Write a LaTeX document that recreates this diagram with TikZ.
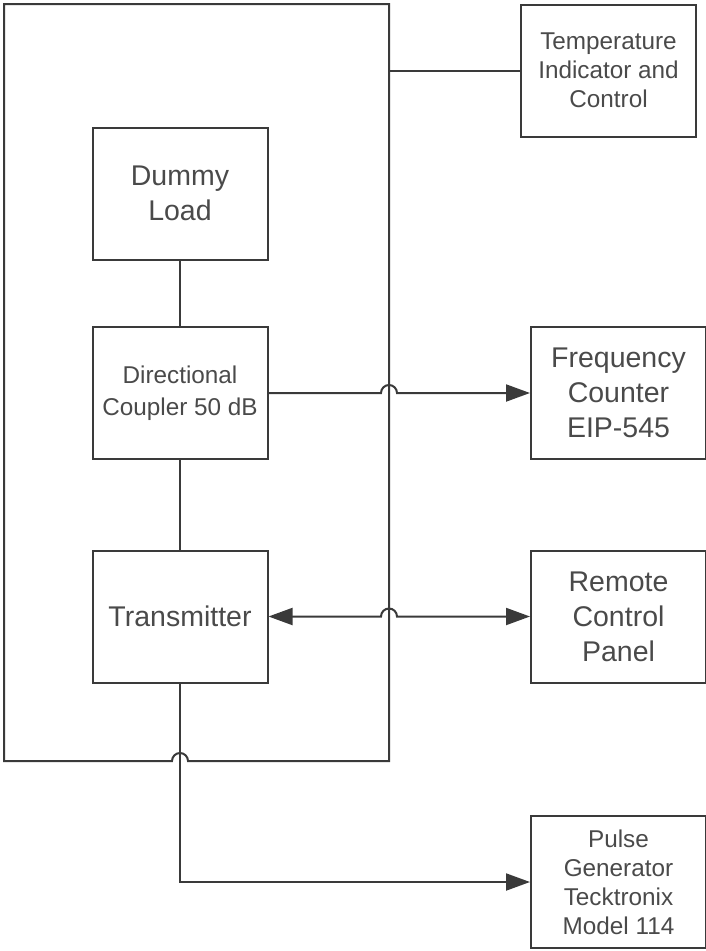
\documentclass[tikz,border=0pt]{standalone}
\usepackage{fontspec}
\setmainfont{Liberation Sans}
\usetikzlibrary{arrows.meta,calc}
\definecolor{linegray}{HTML}{3A3A3A}
\definecolor{textgray}{HTML}{4A4A4A}

\begin{document}
\begin{tikzpicture}[
              x=1pt,y=1pt,
              block/.style={
                  draw=linegray,
                  line width=2pt,
                  rectangle,
                  minimum width=175pt,
                  minimum height=132pt,
                  inner sep=0pt,
                  align=center,
                  text=textgray,
                  font=\fontsize{28.5}{35}\selectfont,
                },
              smalltext/.style={font=\fontsize{24.3}{29}\selectfont},
              widetext/.style={font=\fontsize{24.3}{32}\selectfont},
              wire/.style={draw=linegray,line width=2pt},
              tip/.style={-{Triangle[length=24pt,width=17pt]}},
              bothtips/.style={{Triangle[length=24pt,width=17pt]}-{Triangle[length=24pt,width=17pt]}}
            ]
            \useasboundingbox (0,0) rectangle (706,-951);
            % left column
            \node[block] (dummy) at (180,-193.5) {Dummy\\Load};
            \node[block,widetext] (coupler) at (180,-393) {Directional\\Coupler 50 dB};
            \node[block] (tx) at (180,-616.5) {Transmitter};
            % right column
            \node[block,smalltext] (temp) at (608.5,-70.5) {Temperature\\Indicator and\\Control};
            \node[block] (freq) at (618.5,-393) {Frequency\\Counter\\EIP-545};
            \node[block] (remote) at (618.5,-616.5) {Remote\\Control\\Panel};
            \node[block,smalltext] (pulse) at (618.5,-882) {Pulse\\Generator\\Tecktronix\\Model 114};
            % frame round the left column
            \coordinate (fNW) at (4,-4);
            \coordinate (fNE) at (389,-4);
            \coordinate (fSE) at (389,-761);
            \coordinate (fSW) at (4,-761);
            \draw[wire,line join=miter]
            (fNE) -- (fSE) -- ($(tx.south |- fSE)+(8,0)$)
            arc[start angle=0,end angle=180,radius=8]
            -- (fSW) -- (fNW) -- cycle;
            \draw[wire] (fNE |- temp.west) -- (temp.west);
            % connections
            \draw[wire] (dummy) -- (coupler);
            \draw[wire] (coupler) -- (tx);
            \draw[wire,tip] (coupler.east) -- ($(fNE |- coupler.east)+(-8,0)$)
            arc[start angle=180,end angle=0,radius=8] -- (freq.west);
            \draw[wire,bothtips] (tx.east) -- ($(fNE |- tx.east)+(-8,0)$)
            arc[start angle=180,end angle=0,radius=8] -- (remote.west);
            \draw[wire,tip] (tx.south) -- (tx.south |- pulse.west) -- (pulse.west);
          \end{tikzpicture}
\end{document}
